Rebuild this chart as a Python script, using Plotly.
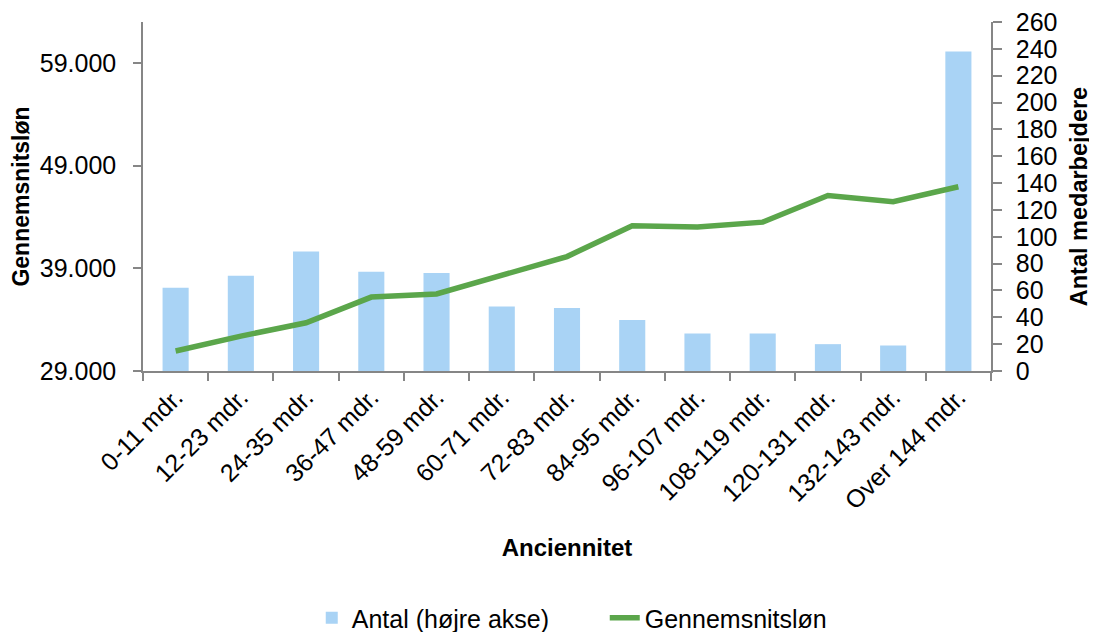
import plotly.graph_objects as go

categories = ["0-11 mdr.", "12-23 mdr.", "24-35 mdr.", "36-47 mdr.", "48-59 mdr.",
              "60-71 mdr.", "72-83 mdr.", "84-95 mdr.", "96-107 mdr.", "108-119 mdr.",
              "120-131 mdr.", "132-143 mdr.", "Over 144 mdr."]
antal = [62, 71, 89, 74, 73, 48, 47, 38, 28, 28, 20, 19, 238]
loen = [30950, 32400, 33700, 36200, 36500, 38350, 40150, 43150, 43030, 43500, 46100, 45500, 46950]

left_ticks = [29000, 39000, 49000, 59000]
right_ticks = list(range(0, 261, 20))

FONT = "Liberation Sans"
axis_col = "#868686"

fig = go.Figure()
fig.add_trace(go.Bar(x=categories, y=antal, name="Antal (højre akse)", yaxis="y",
                     marker=dict(color="#A9D3F5", line=dict(width=0)), width=0.4))
fig.add_trace(go.Scatter(x=categories, y=loen, name="Gennemsnitsløn", mode="lines",
                         yaxis="y2", line=dict(color="#5BA64B", width=5.5)))

fig.update_layout(
    width=1089, height=624,
    margin=dict(l=135, r=106, t=14, b=261, autoexpand=False),
    paper_bgcolor="white", plot_bgcolor="white",
    separators=",.",
    font=dict(family=FONT, size=25, color="black"),
    showlegend=True,
    legend=dict(orientation="h", x=0.199, xanchor="left", y=-0.708, yanchor="middle",
                font=dict(size=25), traceorder="normal",
                entrywidth=248, entrywidthmode="pixels"),
    xaxis=dict(type="category", showline=True, linecolor=axis_col, linewidth=1.5,
               ticks="outside", ticklen=8, tickcolor=axis_col, tickwidth=1.5,
               tickson="boundaries", tickangle=-45, showgrid=False,
               tickfont=dict(size=25),
               title=dict(text="<b>Anciennitet</b>", font=dict(size=24), standoff=26),
               automargin=False),
    # right axis: antal (bars)
    yaxis=dict(range=[0, 260], tickvals=right_ticks, side="right",
               showline=True, linecolor=axis_col, linewidth=1.5, ticks="outside",
               ticklen=9, tickcolor=axis_col, tickwidth=1.5, showgrid=False, zeroline=False,
               ticklabelstandoff=9, tickfont=dict(size=25), ticklabeloverflow="allow",
               title=dict(text="<b>Antal medarbejdere</b>", font=dict(size=23.5), standoff=14),
               automargin=False),
    # left axis: gennemsnitsløn (line)
    yaxis2=dict(range=[29000, 63000], tickvals=left_ticks, tickformat=",d",
                overlaying="y", side="left",
                showline=True, linecolor=axis_col, linewidth=1.5, ticks="outside",
                ticklen=8, tickcolor=axis_col, tickwidth=1.5, showgrid=False, zeroline=False,
                ticklabelstandoff=12, tickfont=dict(size=25),
                title=dict(text="<b>Gennemsnitsløn</b>", font=dict(size=23), standoff=10),
                automargin=False),
)

fig.write_html("out.html")
